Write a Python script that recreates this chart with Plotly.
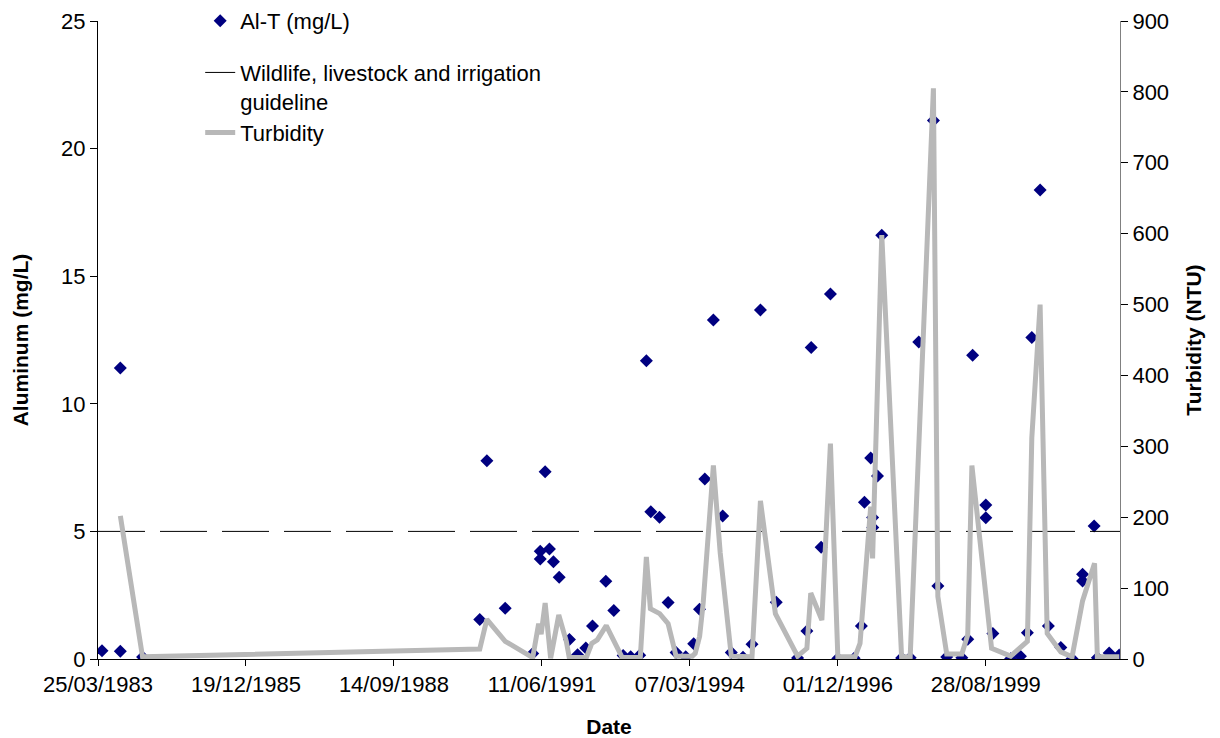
import plotly.graph_objects as go

# ---------------- data ----------------
al_dates = [
    "1983-04-21", "1983-08-23", "1983-08-23", "1984-01-20",
    "1990-04-17", "1990-06-04", "1990-10-06", "1991-04-10", "1991-05-31", "1991-05-31",
    "1991-07-03", "1991-08-01", "1991-08-28", "1991-10-06", "1991-12-14", "1992-02-07",
    "1992-04-03", "1992-05-18", "1992-08-16", "1992-10-09", "1992-12-11", "1993-01-31",
    "1993-04-02", "1993-05-17", "1993-06-16", "1993-08-14", "1993-10-11", "1993-12-04",
    "1994-02-07", "1994-04-02", "1994-05-11", "1994-06-16", "1994-08-13", "1994-10-15",
    "1994-12-12", "1995-03-01", "1995-05-01", "1995-06-27", "1995-10-12", "1996-03-04",
    "1996-05-06", "1996-06-04", "1996-08-10", "1996-10-12", "1996-12-01", "1997-03-21",
    "1997-05-09", "1997-05-30", "1997-07-11", "1997-07-24", "1997-07-25", "1997-08-26",
    "1997-09-24", "1998-02-05", "1998-04-04", "1998-06-01", "1998-09-08", "1998-10-08",
    "1998-12-07", "1999-03-19", "1999-04-28", "1999-05-31", "1999-08-28", "1999-08-28",
    "1999-10-15", "2000-02-12", "2000-04-18", "2000-06-04", "2000-07-04", "2000-08-29",
    "2000-10-24", "2001-01-16", "2001-04-02", "2001-06-12", "2001-06-12", "2001-08-29",
    "2001-09-20", "2001-12-09", "2002-02-15",
]
al_values = [
    0.32, 0.30, 11.4, 0.08,
    1.55, 7.77, 1.99, 0.22, 4.22, 3.92,
    7.34, 4.31, 3.81, 3.20, 0.76, 0.17,
    0.43, 1.29, 3.05, 1.90, 0.14, 0.09,
    0.15, 11.69, 5.77, 5.55, 2.21, 0.25,
    0.09, 0.60, 1.95, 7.05, 13.28, 5.60,
    0.25, 0.07, 0.58, 13.68, 2.22, 0.04,
    1.10, 12.21, 4.38, 14.30, 0.02, 0.03,
    1.29, 6.14, 7.88, 5.54, 5.15, 7.17,
    16.60, 0.04, 0.05, 12.42, 21.10, 2.86,
    0.08, 0.05, 0.77, 11.90, 6.03, 5.53,
    1.00, 0.01, 0.11, 1.03, 12.60, 18.38,
    1.29, 0.45, 0.01, 3.32, 3.06, 5.21,
    0.05, 0.24, 0.16,
]

turb_dates = [
    "1983-08-23", "1984-01-20", "1990-04-17", "1990-06-04", "1990-10-06", "1991-04-10",
    "1991-05-20", "1991-06-06", "1991-07-03", "1991-08-09", "1991-10-03", "1991-11-23",
    "1991-12-13", "1992-04-06", "1992-05-13", "1992-06-19", "1992-08-19", "1992-10-12",
    "1992-12-05", "1993-04-06", "1993-05-17", "1993-06-13", "1993-08-15", "1993-10-11",
    "1993-12-04", "1994-03-23", "1994-04-12", "1994-05-12", "1994-06-05", "1994-08-13",
    "1994-09-28", "1994-12-12", "1995-05-01", "1995-06-27", "1995-10-06", "1996-03-04",
    "1996-05-06", "1996-06-01", "1996-08-15", "1996-10-12", "1996-12-01", "1997-03-27",
    "1997-04-30", "1997-07-11", "1997-07-24", "1997-09-24", "1998-02-05", "1998-04-04",
    "1998-09-08", "1998-10-08", "1998-12-07", "1999-03-19", "1999-04-28", "1999-05-26",
    "1999-08-13", "1999-08-23", "1999-10-06", "2000-02-12", "2000-06-04", "2000-07-04",
    "2000-08-29", "2000-10-16", "2001-01-16", "2001-04-02", "2001-06-12", "2001-09-01",
    "2001-09-20", "2002-02-15",
]
turb_values = [
    202, 3, 14, 56, 25, 2,
    50, 35, 79, 1, 62, 25,
    2, 2, 22, 27, 47, 23,
    2, 2, 144, 71, 64, 50,
    4, 4, 8, 32, 79, 273,
    150, 4, 3, 223, 64, 4,
    15, 93, 55, 304, 3, 3,
    22, 215, 142, 598, 3, 3,
    805, 88, 7, 7, 34, 273,
    121, 104, 15, 4, 25, 312,
    500, 36, 10, 3, 82, 135,
    3, 3,
]

guideline_value = 5
x_start = "1983-03-25"
x_end = "2002-02-20"

FONT = "Liberation Sans, Arial, sans-serif"
FS = 22

# ---------------- figure ----------------
fig = go.Figure()

fig.add_trace(go.Scatter(
    x=al_dates, y=al_values, mode="markers", name="Al-T (mg/L)",
    marker=dict(symbol="diamond", size=10, color="#000080"),
    legend="legend", yaxis="y",
))

fig.add_trace(go.Scatter(
    x=[x_start, x_end], y=[guideline_value, guideline_value], mode="lines",
    name="Wildlife, livestock and irrigation<br>guideline",
    line=dict(color="black", width=1, dash="47px,15px"),
    legend="legend2", yaxis="y",
))

fig.add_trace(go.Scatter(
    x=turb_dates, y=turb_values, mode="lines", name="Turbidity",
    line=dict(color="#b8b8b8", width=5),
    legend="legend2", yaxis="y2",
))

fig.update_layout(
    width=1220, height=738,
    margin=dict(l=98, r=100, t=21, b=79, autoexpand=False),
    paper_bgcolor="white", plot_bgcolor="white",
    font=dict(family=FONT, size=FS, color="black"),
    showlegend=True,
    legend=dict(x=0.1, y=1.033, xanchor="left", yanchor="top",
                bgcolor="rgba(0,0,0,0)", font=dict(size=FS), itemwidth=30),
    legend2=dict(x=0.1, y=0.952, xanchor="left", yanchor="top", valign="top",
                 bgcolor="rgba(0,0,0,0)", font=dict(size=FS), itemwidth=30),
    xaxis=dict(
        type="date", range=[x_start, x_end],
        tick0=x_start, dtick=1000 * 86400000, tickformat="%d/%m/%Y",
        showgrid=False, zeroline=False,
        showline=True, linecolor="black", linewidth=1,
        ticks="outside", ticklen=6, tickcolor="black",
        tickfont=dict(size=FS),
        title=dict(text="<b>Date</b>", font=dict(size=21), standoff=24),
    ),
    yaxis=dict(
        range=[0, 25], dtick=5, tick0=0,
        showgrid=False, zeroline=False,
        showline=True, linecolor="black", linewidth=1,
        ticks="outside", ticklen=7, tickcolor="black",
        tickfont=dict(size=FS),
        title=dict(text="<b>Aluminum (mg/L)</b>", font=dict(size=21), standoff=26),
    ),
    yaxis2=dict(
        range=[0, 900], dtick=100, tick0=0,
        overlaying="y", side="right", anchor="x",
        showgrid=False, zeroline=False,
        showline=True, linecolor="#808080", linewidth=1,
        ticks="outside", ticklen=7, tickcolor="black",
        tickfont=dict(size=FS),
        title=dict(text="<b>Turbidity (NTU)</b>", font=dict(size=21), standoff=18),
    ),
)

fig.write_html("out.html")
